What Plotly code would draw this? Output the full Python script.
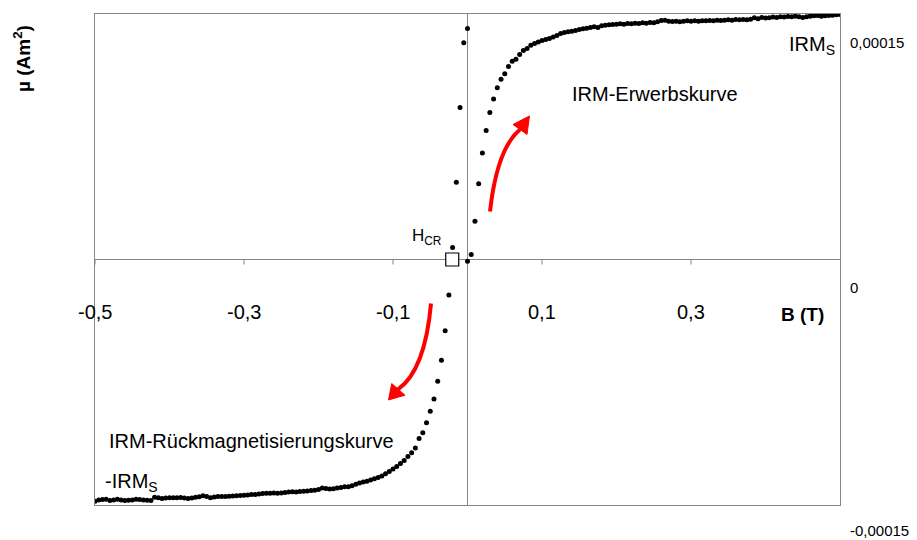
import plotly.graph_objects as go

# Field steps (T)
B_acq = [0.000, 0.005, 0.010, 0.015, 0.020, 0.025, 0.030, 0.035, 0.040, 0.045,
         0.050, 0.055, 0.060, 0.065, 0.070, 0.075, 0.080, 0.085, 0.090, 0.095,
         0.100, 0.105, 0.110, 0.115, 0.120, 0.125, 0.130, 0.135, 0.140, 0.145,
         0.150, 0.155, 0.160, 0.165, 0.170, 0.175, 0.180, 0.185, 0.190, 0.195,
         0.200, 0.205, 0.210, 0.215, 0.220, 0.225, 0.230, 0.235, 0.240, 0.245,
         0.250, 0.255, 0.260, 0.265, 0.270, 0.275, 0.280, 0.285, 0.290, 0.295,
         0.300, 0.305, 0.310, 0.315, 0.320, 0.325, 0.330, 0.335, 0.340, 0.345,
         0.350, 0.355, 0.360, 0.365, 0.370, 0.375, 0.380, 0.385, 0.390, 0.395,
         0.400, 0.405, 0.410, 0.415, 0.420, 0.425, 0.430, 0.435, 0.440, 0.445,
         0.450, 0.455, 0.460, 0.465, 0.470, 0.475, 0.480, 0.485, 0.490, 0.495, 0.500]

# IRM acquisition, magnetic moment in units of 1e-6 Am^2
mu_acq = [-1, 3, 23.4, 46.3, 65, 78.8, 89.8, 98, 104.9, 110.2,
          113.5, 117.9, 121.2, 122.4, 125.3, 127.7, 128.9, 130.9, 132, 132.9,
          133.8, 134.4, 135, 136, 136.9, 138.1, 138.7, 139.1, 139.5, 139.9,
          140.5, 141, 141.3, 141.8, 142.2, 141.8, 142.8, 143.2, 143.4, 143.6,
          143.8, 144, 143.8, 144.2, 144, 144.4, 144.2, 144.6, 144.4, 144.8,
          144.6, 145.2, 146, 146.2, 145.6, 145.4, 145.6, 145.2, 145.6, 145.8,
          145.6, 145.8, 145.6, 145.8, 145.8, 146, 145.8, 146.2, 146, 146.2,
          146.5, 146.2, 146.6, 146.5, 146.6, 146.5, 146.8, 147.7, 147.1, 147.9,
          147.5, 147.7, 148.1, 147.9, 148.3, 148.1, 148.5, 148.3, 148.7, 148.3,
          147.9, 148.3, 148.7, 148.9, 149.1, 148.7, 148.9, 149.1, 149.3, 149.5, 149.7]

B_back = [0.000, -0.005, -0.010, -0.015, -0.020, -0.025, -0.030, -0.035, -0.040, -0.045,
          -0.050, -0.055, -0.060, -0.065, -0.070, -0.075, -0.080, -0.085, -0.090, -0.095,
          -0.100, -0.105, -0.110, -0.115, -0.120, -0.125, -0.130, -0.135, -0.140, -0.145,
          -0.150, -0.155, -0.160, -0.165, -0.170, -0.175, -0.180, -0.185, -0.190, -0.195,
          -0.200, -0.205, -0.210, -0.215, -0.220, -0.225, -0.230, -0.235, -0.240, -0.245,
          -0.250, -0.255, -0.260, -0.265, -0.270, -0.275, -0.280, -0.285, -0.290, -0.295,
          -0.300, -0.305, -0.310, -0.315, -0.320, -0.325, -0.330, -0.335, -0.340, -0.345,
          -0.350, -0.355, -0.360, -0.365, -0.370, -0.375, -0.380, -0.385, -0.390, -0.395,
          -0.400, -0.405, -0.410, -0.415, -0.420, -0.425, -0.430, -0.435, -0.440, -0.445,
          -0.450, -0.455, -0.460, -0.465, -0.470, -0.475, -0.480, -0.485, -0.490, -0.495, -0.500]

# Backfield (Rueckmagnetisierung), units of 1e-6 Am^2
mu_back = [141.1, 132.4, 92.9, 47.2, 7.3, -21.7, -43.6, -61.5, -74.4, -85.2,
           -92.7, -99.8, -105.9, -109.4, -115.2, -118.1, -120.4, -122.8, -124.6, -126.5,
           -128, -129.5, -130.9, -132.3, -133.2, -133.9, -134.7, -135.5, -136, -136.6,
           -137.3, -138.3, -138.9, -138.9, -139.3, -139.6, -140.1, -140.3, -139.9, -139.6,
           -140.5, -141, -141.1, -141.4, -141.6, -141.8, -142.1, -141.9, -142.1, -142.4,
           -142.7, -142.8, -142.7, -142.8, -142.8, -143, -143.3, -143.6, -143.6, -143.9,
           -144, -144.2, -144.4, -144.5, -144.6, -144.8, -144.8, -144.8, -145.1, -145.6,
           -144.8, -144.4, -145, -145.2, -145.7, -146, -145.7, -145.4, -145.5, -145.6,
           -145.6, -145.7, -146, -145.6, -145.2, -147.3, -147.1, -146.9, -146.6, -146.5,
           -146.9, -147.1, -147.3, -146.9, -146.5, -146.9, -147.3, -146.5, -146.6, -146.9, -147.7]

H_CR = [-0.0205]
mu_HCR = [0]

x_ticks = [-0.5, -0.3, -0.1, 0.1, 0.3]
x_tick_text = ["-0,5", "-0,3", "-0,1", "0,1", "0,3"]
y_ticks = [150, 0, -150]
y_tick_text = ["0,00015", "0", "-0,00015"]
y_tick_shift = [-28, -28, -25]

FONT = "Arial, Liberation Sans, sans-serif"
GRAY = "#868686"
RED = "#ff0000"

fig = go.Figure()
fig.add_trace(go.Scatter(x=B_acq, y=mu_acq, mode="markers",
                         marker=dict(size=5, color="black"), showlegend=False))
fig.add_trace(go.Scatter(x=B_back, y=mu_back, mode="markers",
                         marker=dict(size=5, color="black"), showlegend=False))
fig.add_trace(go.Scatter(x=H_CR, y=mu_HCR, mode="markers",
                         marker=dict(symbol="square", size=13, color="white",
                                     line=dict(color="black", width=1.2)),
                         showlegend=False))

shapes = []
# tick marks on the horizontal zero line
for xv in x_ticks:
    shapes.append(dict(type="line", xref="x", yref="y", ysizemode="pixel", yanchor=0,
                       x0=xv, x1=xv, y0=0, y1=-5, line=dict(color=GRAY, width=1)))

# curved red arrows (quadratic path + filled head)
shapes.append(dict(type="path", xref="x", yref="y",
                   path="M 0.0302,29.3 Q 0.0396,67.8 0.0705,79.4",
                   line=dict(color=RED, width=4)))
shapes.append(dict(type="path", xref="x", yref="y",
                   path="M 0.0832,87.7 L 0.0611,82.5 L 0.0799,76.4 Z",
                   fillcolor=RED, line=dict(color=RED, width=1)))
shapes.append(dict(type="path", xref="x", yref="y",
                   path="M -0.0490,-26.9 Q -0.0570,-67.8 -0.0933,-79.4",
                   line=dict(color=RED, width=4)))
shapes.append(dict(type="path", xref="x", yref="y",
                   path="M -0.1060,-85.8 L -0.1017,-75.8 L -0.0839,-82.9 Z",
                   fillcolor=RED, line=dict(color=RED, width=1)))

ann = []
for xv, t in zip(x_ticks, x_tick_text):
    ann.append(dict(x=xv, y=0, xref="x", yref="y", text=t, showarrow=False,
                    yshift=-52, xanchor="center", yanchor="middle",
                    font=dict(size=20, color="black", family=FONT)))
for yv, t, s in zip(y_ticks, y_tick_text, y_tick_shift):
    ann.append(dict(x=1, y=yv, xref="paper", yref="y", text=t, showarrow=False,
                    xshift=8, yshift=s, xanchor="left", yanchor="middle",
                    font=dict(size=15, color="black", family=FONT)))

ann += [
    dict(x=0.4497, y=-33.6, xref="x", yref="y", text="<b>B (T)</b>", showarrow=False,
         xanchor="center", yanchor="middle", font=dict(size=19, color="black", family=FONT)),
    dict(x=-0.098, y=0.9104, xref="paper", yref="paper", text="<b>µ (Am<sup>2</sup>)</b>",
         showarrow=False, textangle=-90, xanchor="center", yanchor="middle",
         font=dict(size=19, color="black", family=FONT)),
    dict(x=0.4966, y=131, xref="x", yref="y", text="IRM<sub>S</sub>", showarrow=False,
         xanchor="right", yanchor="middle", font=dict(size=20, color="black", family=FONT)),
    dict(x=0.2517, y=101.4, xref="x", yref="y", text="IRM-Erwerbskurve", showarrow=False,
         xanchor="center", yanchor="middle", font=dict(size=20, color="black", family=FONT)),
    dict(x=-0.0315, y=14, xref="x", yref="y", text="H<sub>CR</sub>", showarrow=False,
         xanchor="right", yanchor="middle", font=dict(size=17, color="black", family=FONT)),
    dict(x=-0.2893, y=-110.6, xref="x", yref="y", text="IRM-Rückmagnetisierungskurve",
         showarrow=False, xanchor="center", yanchor="middle",
         font=dict(size=20, color="black", family=FONT)),
    dict(x=-0.4893, y=-136, xref="x", yref="y", text="-IRM<sub>S</sub>", showarrow=False,
         xanchor="left", yanchor="middle", font=dict(size=20, color="black", family=FONT)),
]

fig.update_layout(
    width=909, height=532,
    margin=dict(l=87, r=77, t=6, b=35),
    paper_bgcolor="white", plot_bgcolor="white",
    font=dict(family=FONT, color="black"),
    shapes=shapes, annotations=ann, showlegend=False,
)
fig.update_xaxes(range=[-0.5, 0.5], showgrid=False, showticklabels=False, ticks="",
                 zeroline=True, zerolinecolor=GRAY, zerolinewidth=1,
                 showline=True, linecolor=GRAY, linewidth=1, mirror=True)
fig.update_yaxes(range=[-150, 150], showgrid=False, showticklabels=False, ticks="",
                 zeroline=True, zerolinecolor=GRAY, zerolinewidth=1,
                 showline=True, linecolor=GRAY, linewidth=1, mirror=True)

fig.write_html("out.html")
